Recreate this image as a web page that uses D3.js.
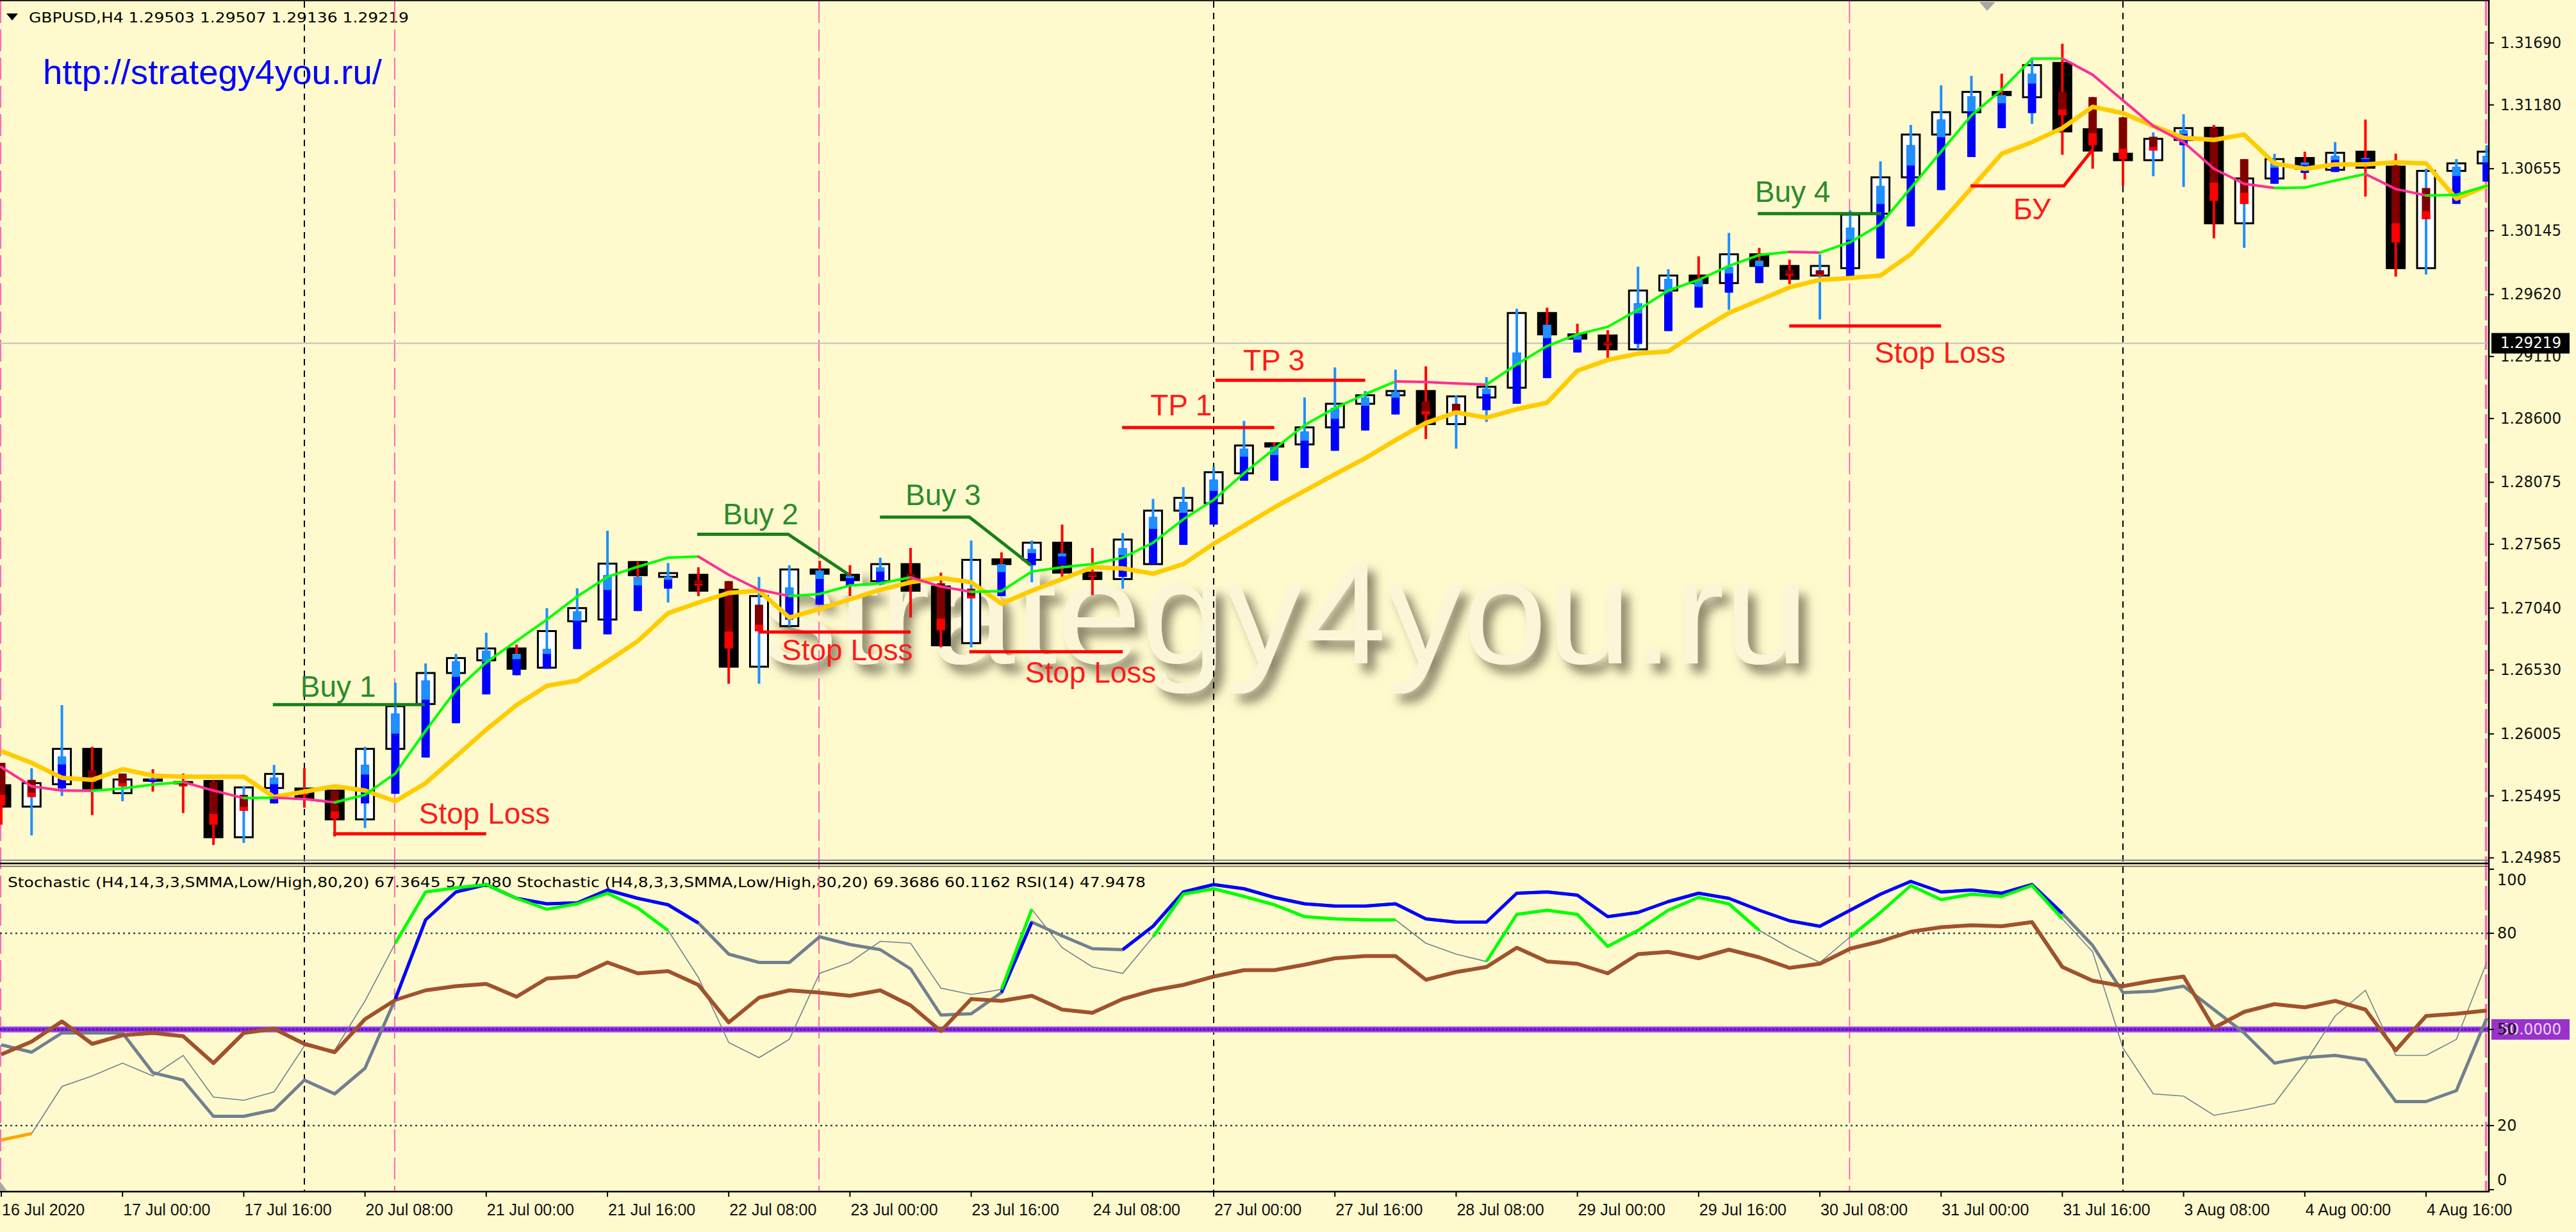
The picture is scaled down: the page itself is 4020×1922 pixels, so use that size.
<!DOCTYPE html>
<html><head><meta charset="utf-8">
<script src="https://cdn.jsdelivr.net/npm/d3@7"></script>
<style>html,body{margin:0;padding:0;background:#FFFACD;} svg{display:block;}</style>
</head><body>
<svg id="c" width="4020" height="1922"></svg>
<script>
// ===== DATA =====
const stdOpen = [1.25583,1.25407,1.25591,1.25882,1.25518,1.25630,1.25609,1.25618,1.25155,1.25560,
1.25556,1.25539,1.25302,1.25882,1.26251,1.26506,1.26611,1.26708,1.26550,1.26932,
1.26946,1.27419,1.27297,1.27314,1.27191,1.26558,1.26892,1.27358,1.27314,1.27262,
1.27402,1.27218,1.26752,1.27441,1.27437,1.27578,1.27332,1.27279,1.27402,1.27842,
1.27903,1.28149,1.28396,1.28387,1.28527,1.28721,1.28791,1.28826,1.28554,1.28773,
1.28853,1.29468,1.29292,1.29283,1.29169,1.29653,1.29776,1.29714,1.29951,1.29855,
1.29776,1.29837,1.30285,1.30584,1.30936,1.31120,1.31287,1.31243,1.31525,1.30980,
1.30778,1.30725,1.30892,1.30992,1.30206,1.30575,1.30743,1.30646,1.30795,1.30672,
1.29837,1.30637,1.30699];
const stdClose = [1.25407,1.25600,1.25882,1.25556,1.25630,1.25620,1.25600,1.25155,1.25565,1.25676,
1.25469,1.25302,1.25882,1.26233,1.26506,1.26629,1.26708,1.26541,1.26851,1.27040,
1.27406,1.27311,1.27328,1.27183,1.26558,1.27139,1.27358,1.27323,1.27270,1.27402,
1.27183,1.26734,1.27437,1.27402,1.27578,1.27332,1.27279,1.27604,1.27842,1.27947,
1.28158,1.28378,1.28369,1.28527,1.28721,1.28791,1.28826,1.28554,1.28782,1.28861,
1.29468,1.29292,1.29257,1.29169,1.29653,1.29776,1.29714,1.29951,1.29855,1.29749,
1.29855,1.30277,1.30584,1.30936,1.31120,1.31287,1.31261,1.31507,1.30962,1.30804,
1.30725,1.30901,1.30989,1.30206,1.30575,1.30734,1.30655,1.30786,1.30663,1.29837,
1.30637,1.30699,1.30795];
const stdHigh = [1.25767,1.25723,1.26242,1.25899,1.25679,1.25715,1.25679,1.25618,1.25574,1.25750,
1.25723,1.25539,1.25899,1.26427,1.26585,1.26664,1.26838,1.26740,1.27040,1.27203,
1.27676,1.27420,1.27411,1.27376,1.27262,1.27297,1.27393,1.27429,1.27393,1.27455,
1.27534,1.27332,1.27596,1.27499,1.27596,1.27727,1.27534,1.27657,1.27938,1.28035,
1.28202,1.28580,1.28404,1.28773,1.29020,1.28826,1.29002,1.29029,1.28791,1.28941,
1.29503,1.29512,1.29380,1.29327,1.29849,1.29828,1.29934,1.30127,1.30004,1.29907,
1.29951,1.30312,1.30716,1.31015,1.31340,1.31419,1.31437,1.31569,1.31683,1.31244,
1.31077,1.30954,1.31103,1.31015,1.30734,1.30778,1.30795,1.30874,1.31059,1.30778,
1.30655,1.30734,1.30848];
const stdLow = [1.25258,1.25170,1.25495,1.25337,1.25451,1.25530,1.25354,1.25091,1.25108,1.25433,
1.25398,1.25161,1.25231,1.25512,1.25811,1.26093,1.26330,1.26488,1.26541,1.26703,
1.26824,1.27016,1.27086,1.27138,1.26418,1.26418,1.26892,1.27068,1.27138,1.27226,
1.26963,1.26717,1.26717,1.27139,1.27253,1.27297,1.27147,1.27200,1.27402,1.27560,
1.27727,1.28088,1.28088,1.28193,1.28334,1.28501,1.28633,1.28431,1.28352,1.28571,
1.28721,1.28932,1.29143,1.29099,1.29169,1.29319,1.29512,1.29494,1.29714,1.29705,
1.29415,1.29767,1.29916,1.30180,1.30479,1.30751,1.30989,1.31024,1.30769,1.30655,
1.30514,1.30593,1.30505,1.30083,1.30004,1.30531,1.30567,1.30628,1.30426,1.29767,
1.29785,1.30365,1.30549];
const haOpen = [1.25767,1.25627,1.25556,1.25706,1.25679,1.25609,1.25618,1.25609,1.25504,1.25433,
1.25548,1.25539,1.25433,1.25512,1.25811,1.26093,1.26330,1.26488,1.26541,1.26703,
1.26824,1.27016,1.27200,1.27270,1.27262,1.27068,1.26945,1.27068,1.27226,1.27235,
1.27323,1.27244,1.27200,1.27139,1.27393,1.27393,1.27332,1.27297,1.27402,1.27560,
1.27727,1.28088,1.28088,1.28193,1.28334,1.28501,1.28633,1.28738,1.28721,1.28668,
1.28721,1.28932,1.29143,1.29231,1.29213,1.29319,1.29512,1.29635,1.29714,1.29820,
1.29820,1.29767,1.29916,1.30180,1.30479,1.30751,1.30989,1.31112,1.31287,1.31244,
1.31077,1.30918,1.30848,1.30989,1.30734,1.30531,1.30620,1.30628,1.30707,1.30681,
1.30496,1.30365,1.30549];
const haClose = [1.25416,1.25486,1.25820,1.25609,1.25574,1.25636,1.25574,1.25258,1.25372,1.25644,
1.25504,1.25310,1.25750,1.26172,1.26444,1.26602,1.26690,1.26664,1.26703,1.27013,
1.27311,1.27297,1.27297,1.27226,1.26708,1.26849,1.27209,1.27350,1.27306,1.27376,
1.27262,1.26857,1.27121,1.27402,1.27525,1.27490,1.27297,1.27534,1.27789,1.27912,
1.28097,1.28352,1.28369,1.28492,1.28686,1.28773,1.28817,1.28633,1.28650,1.28844,
1.29143,1.29371,1.29283,1.29204,1.29547,1.29749,1.29740,1.29846,1.29899,1.29776,
1.29776,1.30171,1.30514,1.30848,1.31059,1.31252,1.31261,1.31437,1.31094,1.30848,
1.30734,1.30804,1.30971,1.30391,1.30365,1.30707,1.30707,1.30760,1.30743,1.30048,
1.30241,1.30672,1.30760];
const fastMA = [1.25732,1.25574,1.25539,1.25537,1.25556,1.25588,1.25609,1.25539,1.25477,1.25480,
1.25469,1.25442,1.25504,1.25680,1.26031,1.26365,1.26594,1.26770,1.26946,1.27135,
1.27297,1.27380,1.27455,1.27464,1.27314,1.27191,1.27139,1.27156,1.27226,1.27244,
1.27293,1.27217,1.27174,1.27180,1.27341,1.27376,1.27402,1.27455,1.27578,1.27771,
1.27930,1.28150,1.28350,1.28545,1.28686,1.28800,1.28905,1.28900,1.28888,1.28879,
1.29046,1.29196,1.29292,1.29354,1.29494,1.29653,1.29740,1.29855,1.29945,1.29970,
1.29965,1.30050,1.30197,1.30496,1.30795,1.31094,1.31305,1.31560,1.31562,1.31428,
1.31217,1.31006,1.30874,1.30655,1.30531,1.30496,1.30500,1.30558,1.30611,1.30488,
1.30435,1.30440,1.30514];
const slowMA = [1.25864,1.25767,1.25644,1.25627,1.25715,1.25662,1.25653,1.25653,1.25653,1.25486,
1.25530,1.25574,1.25539,1.25451,1.25600,1.25820,1.26040,1.26242,1.26400,1.26444,
1.26602,1.26769,1.26998,1.27086,1.27165,1.27183,1.26963,1.27033,1.27112,1.27191,
1.27253,1.27288,1.27253,1.27077,1.27183,1.27279,1.27376,1.27367,1.27323,1.27402,
1.27569,1.27719,1.27868,1.28005,1.28141,1.28273,1.28422,1.28563,1.28650,1.28607,
1.28677,1.28730,1.28993,1.29081,1.29134,1.29152,1.29319,1.29468,1.29573,1.29679,
1.29740,1.29755,1.29776,1.29951,1.30215,1.30496,1.30778,1.30874,1.30989,1.31164,
1.31112,1.31006,1.30910,1.30892,1.30936,1.30698,1.30655,1.30690,1.30690,1.30707,
1.30698,1.30408,1.30514];
const stoch14 = [45.2,42.9,48.9,48.9,48.9,36.5,34.2,22.9,22.9,24.9,
34.2,29.9,37.9,59.5,84.2,92.9,95.2,90.9,89.2,89.5,
93.5,90.9,88.9,83.2,73.5,70.9,70.9,78.9,76.5,74.9,
68.9,54.5,54.9,61.5,83.5,79.2,75.2,74.9,82.2,92.9,
95.2,93.9,91.2,89.2,88.5,88.5,89.2,84.5,83.5,83.5,
92.5,92.9,91.9,85.2,86.5,89.9,92.5,90.9,87.2,83.9,
82.2,87.2,92.2,96.2,92.9,93.5,92.5,95.2,86.2,76.2,
61.5,61.9,63.5,56.2,48.9,39.5,41.2,41.9,40.5,27.5,
27.5,30.9,53.5];
const stoch8 = [15.5,17.5,32.2,35.5,39.5,35.5,41.9,28.9,27.9,30.5,
44.9,43.5,58.9,76.9,92.9,94.2,95.2,90.9,87.5,89.2,
92.5,87.9,80.9,66.2,45.9,41.2,46.9,67.5,70.9,77.5,
76.9,62.9,60.9,62.5,87.5,75.5,69.5,67.5,78.9,92.2,
93.9,91.5,88.9,85.2,84.5,84.2,84.2,76.9,73.5,71.2,
85.9,87.2,85.9,75.9,80.9,87.2,91.2,89.2,80.9,75.5,
70.9,78.9,86.5,94.9,90.5,92.2,91.5,94.9,84.5,74.2,
44.2,29.9,29.2,23.2,24.9,26.9,39.5,54.2,62.2,41.9,
41.9,46.9,70.9];
const rsi14 = [42.2,46.2,52.5,45.5,48.2,48.9,47.9,39.5,48.9,50.2,
45.5,42.9,53.2,59.2,62.2,63.5,64.2,60.2,65.9,66.5,
70.9,67.5,68.2,63.9,52.2,59.9,62.2,61.5,60.5,62.2,
57.5,49.5,59.5,58.9,60.5,56.2,55.2,59.5,62.2,63.9,
66.5,68.5,68.5,70.2,72.2,72.9,72.9,65.5,67.9,69.5,
75.5,71.2,70.5,67.5,73.5,74.2,72.2,74.9,72.5,69.2,
70.5,75.2,77.5,80.5,81.9,82.5,82.2,83.5,69.5,65.2,
63.5,65.2,66.5,50.5,55.5,57.9,56.9,58.9,56.2,43.5,
54.2,54.9,55.9];
const priceTicks = [1.31690,1.31180,1.30655,1.30145,1.29620,1.29110,1.28600,1.28075,1.27565,1.27040,1.26530,1.26005,1.25495,1.24985];
const indTicks = [100,80,50,20,0];
const indLevels = [80,20];
const midLevel = 50;
const timeLabels = ["16 Jul 2020","17 Jul 00:00","17 Jul 16:00","20 Jul 08:00","21 Jul 00:00","21 Jul 16:00","22 Jul 08:00","23 Jul 00:00","23 Jul 16:00","24 Jul 08:00","27 Jul 00:00","27 Jul 16:00","28 Jul 08:00","29 Jul 00:00","29 Jul 16:00","30 Jul 08:00","31 Jul 00:00","31 Jul 16:00","3 Aug 08:00","4 Aug 00:00","4 Aug 16:00"];
const timeLabelStep = 4;
const lastPrice = 1.29219;
const weekSeparatorBars = [10,40,70];
const markerBars = [0,13,27,61,82];
const buyLines = [
  [[8.96,1.26246],[13.97,1.26246]],
  [[22.96,1.27648],[25.96,1.27648],[27.97,1.27314]],
  [[28.99,1.27789],[31.94,1.27789],[33.97,1.27393]],
  [[57.95,1.30285],[62.03,1.30285]]
];
const redLines = [
  [[10.95,1.25184],[16.0,1.25184]],
  [[25.0,1.26843],[30.0,1.26843]],
  [[31.94,1.26681],[37.0,1.26681]],
  [[58.99,1.29362],[64.0,1.29362]],
  [[36.98,1.28526],[42.0,1.28526]],
  [[40.06,1.28914],[45.0,1.28914]],
  [[64.97,1.30514],[68.05,1.30514],[69.0,1.30813]]
];
const buyTexts = [["Buy 1",9.87,1.26311],["Buy 2",23.81,1.27729],["Buy 3",29.83,1.27887],["Buy 4",57.86,1.30382]];
const redTexts = [["Stop Loss",13.78,1.25266],["Stop Loss",25.75,1.26611],["Stop Loss",33.78,1.26427],["TP 1",37.91,1.28626],["TP 3",40.97,1.28995],["Stop Loss",61.80,1.29058],["БУ",66.38,1.30239]];
const headerText = "GBPUSD,H4  1.29503 1.29507 1.29136 1.29219";
const urlText = "http://strategy4you.ru/";
const watermarkText = "strategy4you.ru";
const indHeader = "Stochastic (H4,14,3,3,SMMA,Low/High,80,20) 67.3645 57.7080  Stochastic (H4,8,3,3,SMMA,Low/High,80,20) 69.3686 60.1162  RSI(14) 47.9478";

// ===== CHART =====
const W = 4020, H = 1922;
const axisX = 3884;
const mainBottom = 1345, indTop = 1352, indBottom = 1858;
const SANS = "'Liberation Sans', Arial, sans-serif";
const DV = "'DejaVu Sans', Verdana, sans-serif";
const bars = d3.range(stdOpen.length);
const x = d3.scaleLinear().domain([0, 82]).range([2, 3880.6]);
const yP = d3.scaleLinear().domain([1.2495, 1.32043]).range([1345, 0]);
const yI = d3.scaleLinear().domain([0, 100]).range([1856, 1356]);

const svg = d3.select('#c');
svg.append('rect').attr('width', W).attr('height', H).attr('fill', '#FFFACD');
const defs = svg.append('defs');
defs.append('clipPath').attr('id', 'clipMain').append('rect').attr('x', 0).attr('y', 0).attr('width', axisX - 1).attr('height', mainBottom);
defs.append('clipPath').attr('id', 'clipInd').append('rect').attr('x', 0).attr('y', indTop).attr('width', axisX - 1).attr('height', indBottom - indTop);
const flt = defs.append('filter').attr('id', 'wm').attr('x', '-5%').attr('y', '-30%').attr('width', '115%').attr('height', '170%');
flt.append('feGaussianBlur').attr('in', 'SourceAlpha').attr('stdDeviation', 8).attr('result', 'b');
flt.append('feOffset').attr('in', 'b').attr('dx', 12).attr('dy', 14).attr('result', 'o');
flt.append('feFlood').attr('flood-color', '#6d6850').attr('flood-opacity', 0.8).attr('result', 'fl');
flt.append('feComposite').attr('in', 'fl').attr('in2', 'o').attr('operator', 'in').attr('result', 's');
const mg = flt.append('feMerge'); mg.append('feMergeNode').attr('in', 's'); mg.append('feMergeNode').attr('in', 'SourceGraphic');

// watermark
svg.append('text').attr('x', 1188).attr('y', 1035).attr('font-family', SANS).attr('font-size', 228)
  .attr('textLength', 1635).attr('lengthAdjust', 'spacingAndGlyphs')
  .attr('fill', '#FBF6D8').attr('filter', 'url(#wm)').text(watermarkText);

// header texts
svg.append('path').attr('d', 'M10,21 L28,21 L19,32 Z').attr('fill', '#000');
svg.append('text').attr('x', 45).attr('y', 35).attr('font-family', DV).attr('font-size', 22)
  .attr('textLength', 593).attr('lengthAdjust', 'spacingAndGlyphs').attr('fill', '#000').text(headerText);
svg.append('text').attr('x', 67).attr('y', 131).attr('font-family', SANS).attr('font-size', 53)
  .attr('textLength', 529).attr('lengthAdjust', 'spacingAndGlyphs').attr('fill', '#0000FF').text(urlText);
svg.append('text').attr('x', 12).attr('y', 1384).attr('font-family', DV).attr('font-size', 21)
  .attr('textLength', 1776).attr('lengthAdjust', 'spacingAndGlyphs').attr('fill', '#000').text(indHeader);

// vertical separator lines
const vg = svg.append('g');
weekSeparatorBars.forEach(b => vg.append('line').attr('x1', x(b)).attr('x2', x(b)).attr('y1', 2).attr('y2', indBottom)
  .attr('stroke', '#000').attr('stroke-width', 2).attr('stroke-dasharray', '10,8'));
markerBars.forEach(b => vg.append('line').attr('x1', Math.max(1, x(b) - (b === 82 ? 1 : 1))).attr('x2', Math.max(1, x(b) - 1)).attr('y1', 2).attr('y2', indBottom)
  .attr('stroke', '#FF69B4').attr('stroke-width', b === 82 ? 3.5 : 2).attr('stroke-dasharray', b === 82 ? '38,8' : '34,10'));

// ---- main panel ----
const gM = svg.append('g').attr('clip-path', 'url(#clipMain)');
gM.append('line').attr('x1', 0).attr('x2', axisX).attr('y1', yP(lastPrice)).attr('y2', yP(lastPrice)).attr('stroke', '#C0C0C0').attr('stroke-width', 2);

// standard candle bodies
gM.selectAll('rect.std').data(bars).join('rect').attr('class', 'std')
  .attr('x', i => x(i) - 14).attr('width', 28)
  .attr('y', i => yP(Math.max(stdOpen[i], stdClose[i])))
  .attr('height', i => Math.max(2, yP(Math.min(stdOpen[i], stdClose[i])) - yP(Math.max(stdOpen[i], stdClose[i]))))
  .attr('fill', i => stdClose[i] >= stdOpen[i] ? '#FFFFFF' : '#000000')
  .attr('stroke', '#000').attr('stroke-width', 3);
// Heiken Ashi wicks
gM.selectAll('line.wick').data(bars).join('line').attr('class', 'wick')
  .attr('x1', i => x(i)).attr('x2', i => x(i))
  .attr('y1', i => yP(stdHigh[i])).attr('y2', i => yP(stdLow[i]))
  .attr('stroke', i => stdClose[i] >= stdOpen[i] ? '#1E90FF' : '#FF0000').attr('stroke-width', 4);
// Heiken Ashi bodies
bars.forEach(i => {
  const up = haClose[i] >= haOpen[i];
  const t = yP(Math.max(haOpen[i], haClose[i])), b = yP(Math.min(haOpen[i], haClose[i]));
  const h = Math.max(3, b - t);
  gM.append('rect').attr('x', x(i) - 6.5).attr('width', 13).attr('y', t).attr('height', h).attr('fill', up ? '#0000FF' : '#800000');
  const part = h * 0.25;
  if (up) gM.append('rect').attr('x', x(i) - 6.5).attr('width', 13).attr('y', t).attr('height', part).attr('fill', '#1E90FF');
  else gM.append('rect').attr('x', x(i) - 6.5).attr('width', 13).attr('y', t + h - part).attr('height', part).attr('fill', '#FF0000');
});

// moving averages
const lineP = d3.line().x(d => x(d[0])).y(d => yP(d[1]));
gM.append('path').attr('d', lineP(slowMA.map((v, i) => [i, v]))).attr('fill', 'none')
  .attr('stroke', '#FFCC00').attr('stroke-width', 7).attr('stroke-linejoin', 'round');
for (let i = 1; i < fastMA.length; i++) {
  gM.append('path').attr('d', lineP([[i - 1, fastMA[i - 1]], [i, fastMA[i]]])).attr('fill', 'none')
    .attr('stroke', fastMA[i] >= fastMA[i - 1] ? '#00FF00' : '#FF2E93').attr('stroke-width', 4).attr('stroke-linecap', 'round');
}

// annotations
buyLines.forEach(pts => gM.append('path').attr('d', lineP(pts)).attr('fill', 'none').attr('stroke', '#1A7F1A').attr('stroke-width', 5));
redLines.forEach(pts => gM.append('path').attr('d', lineP(pts)).attr('fill', 'none').attr('stroke', '#FF0000').attr('stroke-width', 5));
buyTexts.forEach(d => gM.append('text').attr('x', x(d[1])).attr('y', yP(d[2])).attr('font-family', SANS).attr('font-size', 46).attr('fill', '#2C8A2C').text(d[0]));
redTexts.forEach(d => gM.append('text').attr('x', x(d[1])).attr('y', yP(d[2])).attr('font-family', SANS).attr('font-size', 46).attr('fill', '#FF1A1A').text(d[0]));

// ---- indicator panel ----
const gI = svg.append('g').attr('clip-path', 'url(#clipInd)');
indLevels.forEach(v => gI.append('line').attr('x1', 0).attr('x2', axisX).attr('y1', yI(v)).attr('y2', yI(v))
  .attr('stroke', '#2F4F4F').attr('stroke-width', 2.5).attr('stroke-dasharray', '3,5'));
gI.append('line').attr('x1', 0).attr('x2', axisX).attr('y1', yI(midLevel)).attr('y2', yI(midLevel)).attr('stroke', '#C08AE8').attr('stroke-width', 10);
gI.append('line').attr('x1', 0).attr('x2', axisX).attr('y1', yI(midLevel)).attr('y2', yI(midLevel)).attr('stroke', '#8A2BE2').attr('stroke-width', 7);
gI.append('line').attr('x1', 0).attr('x2', axisX).attr('y1', yI(midLevel)).attr('y2', yI(midLevel)).attr('stroke', '#5A10A8').attr('stroke-width', 3).attr('stroke-dasharray', '3,3');

const lineI = d3.line().defined(d => d[1] !== null).x(d => x(d[0])).y(d => yI(d[1]));
const flagged = (arr, test) => arr.map((v, i) => [i, (test(v) || (i + 1 < arr.length && test(arr[i + 1]))) ? v : null]);
gI.append('path').attr('d', lineI(stoch8.map((v, i) => [i, v]))).attr('fill', 'none').attr('stroke', '#708090').attr('stroke-width', 1.6);
gI.append('path').attr('d', lineI(stoch14.map((v, i) => [i, v]))).attr('fill', 'none').attr('stroke', '#708090').attr('stroke-width', 5).attr('stroke-linejoin', 'round');
gI.append('path').attr('d', lineI(rsi14.map((v, i) => [i, v]))).attr('fill', 'none').attr('stroke', '#A0522D').attr('stroke-width', 6).attr('stroke-linejoin', 'round');
gI.append('path').attr('d', lineI(flagged(stoch14, v => v > 80))).attr('fill', 'none').attr('stroke', '#0000FF').attr('stroke-width', 5).attr('stroke-linejoin', 'round');
gI.append('path').attr('d', lineI(flagged(stoch8, v => v > 80))).attr('fill', 'none').attr('stroke', '#00FF00').attr('stroke-width', 5).attr('stroke-linejoin', 'round');
gI.append('path').attr('d', lineI(flagged(stoch8, v => v < 20))).attr('fill', 'none').attr('stroke', '#FFA500').attr('stroke-width', 5).attr('stroke-linejoin', 'round');

// ---- frame & axes ----
svg.append('line').attr('x1', 0).attr('x2', axisX).attr('y1', 1).attr('y2', 1).attr('stroke', '#222').attr('stroke-width', 2);
svg.append('line').attr('x1', 0).attr('x2', axisX).attr('y1', 1342).attr('y2', 1342).attr('stroke', '#888').attr('stroke-width', 2);
svg.append('line').attr('x1', 0).attr('x2', axisX).attr('y1', 1347).attr('y2', 1347).attr('stroke', '#000').attr('stroke-width', 2.5);
svg.append('line').attr('x1', 0).attr('x2', axisX).attr('y1', 1351.5).attr('y2', 1351.5).attr('stroke', '#555').attr('stroke-width', 1.5);
svg.append('line').attr('x1', 0).attr('x2', axisX + 1).attr('y1', indBottom + 1).attr('y2', indBottom + 1).attr('stroke', '#000').attr('stroke-width', 2.5);
svg.append('line').attr('x1', axisX).attr('x2', axisX).attr('y1', 0).attr('y2', indBottom + 2).attr('stroke', '#000').attr('stroke-width', 2.5);

// price axis
priceTicks.forEach(v => {
  svg.append('line').attr('x1', axisX).attr('x2', axisX + 8).attr('y1', yP(v)).attr('y2', yP(v)).attr('stroke', '#000').attr('stroke-width', 2);
  svg.append('text').attr('x', 3902).attr('y', yP(v)).attr('dominant-baseline', 'central').attr('font-family', DV).attr('font-size', 24)
    .attr('textLength', 95).attr('lengthAdjust', 'spacingAndGlyphs').attr('fill', '#111').text(v.toFixed(5));
});
svg.append('rect').attr('x', 3888).attr('y', yP(lastPrice) - 16).attr('width', 122).attr('height', 32).attr('fill', '#000');
svg.append('text').attr('x', 3902).attr('y', yP(lastPrice)).attr('dominant-baseline', 'central').attr('font-family', DV).attr('font-size', 24)
  .attr('textLength', 95).attr('lengthAdjust', 'spacingAndGlyphs').attr('fill', '#FFF').text(lastPrice.toFixed(5));

// indicator axis
svg.append('rect').attr('x', 3888).attr('y', yI(midLevel) - 16).attr('width', 122).attr('height', 32).attr('fill', '#9932CC');
svg.append('text').attr('x', 3902).attr('y', yI(midLevel)).attr('dominant-baseline', 'central').attr('font-family', DV).attr('font-size', 24)
  .attr('textLength', 95).attr('lengthAdjust', 'spacingAndGlyphs').attr('fill', '#E8D6F2').text(midLevel.toFixed(4));
indTicks.forEach(v => {
  svg.append('line').attr('x1', axisX).attr('x2', axisX + 8).attr('y1', yI(v)).attr('y2', yI(v)).attr('stroke', '#000').attr('stroke-width', 2);
  const off = v === 100 ? 17 : (v === 0 ? -15 : 0);
  svg.append('text').attr('x', 3897).attr('y', yI(v) + off).attr('dominant-baseline', 'central').attr('font-family', DV).attr('font-size', 24)
    .attr('fill', '#111').text(String(v));
});

// time axis
timeLabels.forEach((t, k) => {
  const b = k * timeLabelStep;
  svg.append('line').attr('x1', x(b)).attr('x2', x(b)).attr('y1', indBottom + 1).attr('y2', indBottom + 9).attr('stroke', '#000').attr('stroke-width', 2);
  svg.append('text').attr('x', Math.max(0, x(b) + 1)).attr('y', 1896).attr('font-family', SANS).attr('font-size', 25).attr('fill', '#111').text(t);
});

// small chart-shift markers
svg.append('path').attr('d', 'M3089,3 L3114,3 L3101,17 Z').attr('fill', '#A8A8A8');
svg.append('path').attr('d', 'M0,1843 L11,1858 L0,1858 Z').attr('fill', '#A8A8A8');
</script>
</body></html>
